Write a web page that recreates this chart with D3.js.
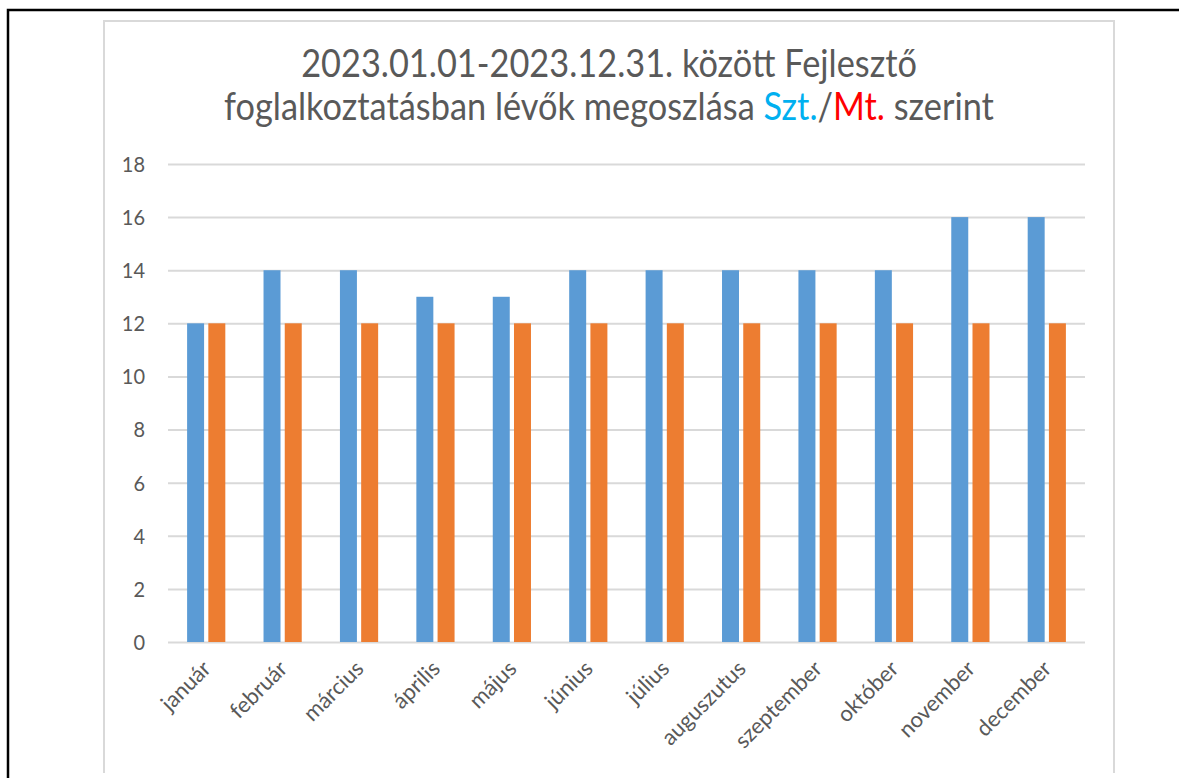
<!DOCTYPE html>
<html>
<head>
<meta charset="utf-8">
<script src="https://cdn.jsdelivr.net/npm/d3@7"></script>
<style>
  html, body { margin: 0; padding: 0; background: #fff; }
  svg { display: block; font-family: Lato, "Open Sans", sans-serif; }
</style>
</head>
<body>
<div id="chart"></div>
<script>
const MONTHS = ["január", "február", "március", "április", "május", "június", "július", "auguszutus", "szeptember", "október", "november", "december"];
const SERIES = ["Szt.", "Mt."];
const SZT_VALUES = [12, 14, 14, 13, 13, 14, 14, 14, 14, 14, 16, 16];
const MT_VALUES = [12, 12, 12, 12, 12, 12, 12, 12, 12, 12, 12, 12];
const Y_TICKS = [0, 2, 4, 6, 8, 10, 12, 14, 16, 18];
const COLORS = ["#5B9BD5", "#ED7D31"];

const width = 1179;
const height = 778;
const plot = { left: 168, right: 1085, top: 164, bottom: 642 };

const svg = d3.select("#chart").append("svg")
  .attr("width", width).attr("height", height);

// outer black border and grey chart frame
svg.append("path")
  .attr("d", `M${width + 5},10 H8 V${height + 5}`)
  .attr("fill", "none").attr("stroke", "#000").attr("stroke-width", 2.5);

svg.append("path")
  .attr("d", "M104,773 V21 H1114 V773")
  .attr("fill", "none").attr("stroke", "#D9D9D9").attr("stroke-width", 2);

const rows = MONTHS.map((m, i) => ({ month: m, values: [SZT_VALUES[i], MT_VALUES[i]] }));

const x0 = d3.scaleBand().domain(MONTHS).range([plot.left, plot.right])
  .paddingInner(0.5).paddingOuter(0.25);
const x1 = d3.scaleBand().domain(SERIES).range([0, x0.bandwidth()]).paddingInner(0.2);
const y = d3.scaleLinear().domain([0, 18]).range([plot.bottom, plot.top]);

// gridlines
svg.append("g")
  .attr("transform", `translate(${plot.left},0)`)
  .call(d3.axisLeft(y).tickValues(Y_TICKS).tickSize(-(plot.right - plot.left)).tickFormat(""))
  .call((g) => g.select(".domain").remove())
  .call((g) => g.selectAll("line").attr("stroke", "#D9D9D9").attr("stroke-width", 2));

// y labels (source text looks a bit stretched vertically)
svg.append("g").selectAll("text")
  .data(Y_TICKS)
  .join("text")
  .attr("transform", (d) => `translate(145,${y(d)}) scale(1,1.1)`)
  .attr("dy", "0.36em")
  .attr("text-anchor", "end")
  .attr("fill", "#595959")
  .attr("font-size", 20)
  .text((d) => d);

// bars
const groups = svg.append("g").selectAll("g")
  .data(rows)
  .join("g")
  .attr("transform", (d) => `translate(${x0(d.month)},0)`);

groups.selectAll("rect")
  .data((d) => d.values.map((v, i) => ({ key: SERIES[i], value: v, i })))
  .join("rect")
  .attr("x", (d) => x1(d.key))
  .attr("width", x1.bandwidth())
  .attr("y", (d) => y(d.value))
  .attr("height", (d) => y(0) - y(d.value))
  .attr("fill", (d) => COLORS[d.i]);

// x labels, rotated
svg.append("g").selectAll("text")
  .data(MONTHS)
  .join("text")
  .attr("transform", (d) => `translate(${x0(d) + x0.bandwidth() / 2 + 6},670) rotate(-45)`)
  .attr("text-anchor", "end")
  .attr("fill", "#595959")
  .attr("font-size", 22)
  .text((d) => d);

// title
const title = svg.append("g").attr("fill", "#595959");
const line1 = title.append("text")
  .attr("transform", "translate(609,77) scale(1,1.12)")
  .attr("text-anchor", "middle")
  .text("2023.01.01-2023.12.31. között Fejlesztő");
const line2 = title.append("text")
  .attr("transform", "translate(609,120) scale(1,1.12)")
  .attr("text-anchor", "middle");
line2.append("tspan").text("foglalkoztatásban lévők megoszlása ");
line2.append("tspan").attr("fill", "#00B0F0").text("Szt.");
line2.append("tspan").text("/");
line2.append("tspan").attr("fill", "#FF0000").text("Mt.");
line2.append("tspan").text(" szerint");

title.selectAll("text").attr("font-size", 32);
const w2 = line2.node().getComputedTextLength();
title.selectAll("text").attr("font-size", 32 * 770 / w2);
</script>
</body>
</html>
